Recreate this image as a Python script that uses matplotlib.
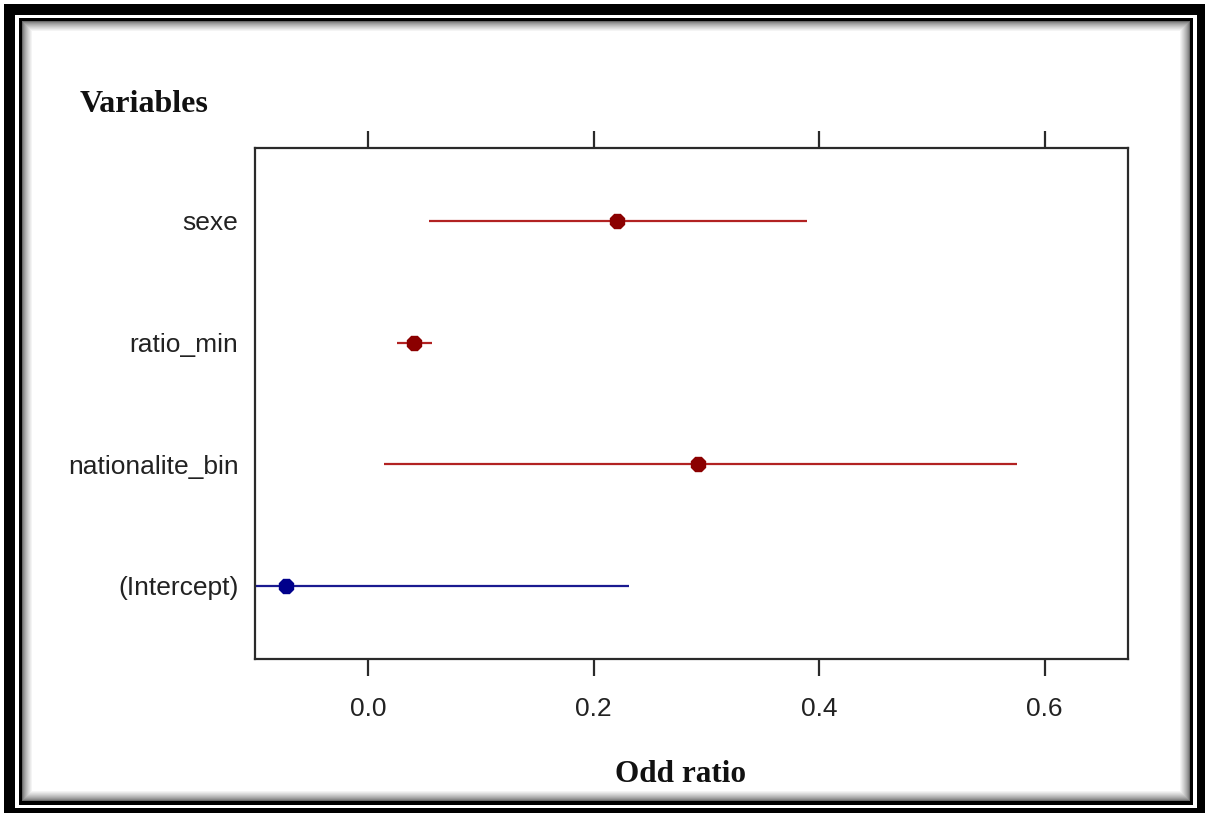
import matplotlib
matplotlib.use("Agg")
import matplotlib.pyplot as plt
from matplotlib.patches import Rectangle

# Coefficient estimates with their confidence bounds
variables = ["(Intercept)", "nationalite_bin", "ratio_min", "sexe"]
estimates = [-0.073, 0.293, 0.041, 0.221]
lower = [-0.377, 0.014, 0.026, 0.054]
upper = [0.2315, 0.576, 0.057, 0.389]
point_colors = ["#00008B", "#8B0000", "#8B0000", "#8B0000"]
line_colors = ["#1A1A90", "#B22222", "#B22222", "#B22222"]
xticks = [0.0, 0.2, 0.4, 0.6]
xtick_labels = ["0.0", "0.2", "0.4", "0.6"]

W, H = 1208, 814
fig = plt.figure(figsize=(W / 100, H / 100), dpi=100)
fig.patch.set_facecolor("white")

# Decorative double frame with an inset shadow, drawn in pixel coordinates
bg = fig.add_axes([0, 0, 1, 1], zorder=-10)
bg.set_xlim(0, W)
bg.set_ylim(H, 0)
bg.axis("off")

def box(x0, y0, x1, y1, color):
    bg.add_patch(Rectangle((x0, y0), x1 - x0, y1 - y0, facecolor=color,
                           edgecolor="none"))

box(4, 4, 1205, 813, "black")
box(15, 15, 1197, 808, "white")
box(19, 18, 1193, 805, "black")
box(22, 21, 1190, 801, "#6a6a6a")
n_shade = 10
for i in range(1, n_shade + 1):
    g = 0.42 + 0.58 * (i / n_shade) ** 0.7
    box(22 + i, 21 + i, 1190 - i, 801 - i, (g, g, g))

# Forest plot axes
ax = fig.add_axes([255 / W, 1 - 659 / H, 873 / W, 511 / H])
ax.set_xlim(-0.1002, 0.674)
ax.set_ylim(0.4, 4.6)
ypos = list(range(1, len(variables) + 1))

for y, est, lo, hi, pc, lc in zip(ypos, estimates, lower, upper,
                                  point_colors, line_colors):
    ax.plot([lo, hi], [y, y], color=lc, linewidth=1.6, solid_capstyle="butt",
            zorder=2)
    ax.plot([est], [y], marker="8", markersize=11.5, color=pc,
            markeredgecolor=pc, linestyle="none", zorder=3)

for side in ax.spines.values():
    side.set_linewidth(1.6)
    side.set_color("#2a2a2a")

ax.set_yticks(ypos)
ax.set_yticklabels(variables, fontsize=19, family="Liberation Sans",
                   color="#222222")
ax.tick_params(axis="y", length=0, pad=12)

ax.set_xticks(xticks)
ax.set_xticklabels(xtick_labels, fontsize=19, family="Liberation Sans",
                   color="#222222")
ax.tick_params(axis="x", direction="out", length=12, width=1.6,
               color="#2a2a2a", top=True, labeltop=False, pad=15)

fig.text(80 / W, 1 - 104 / H, "Variables", fontsize=23, fontweight="bold",
         family="Liberation Serif", ha="left", va="center", color="#111111")
fig.text(681 / W, 1 - 775 / H, "Odd ratio", fontsize=22.5, fontweight="bold",
         family="Liberation Serif", ha="center", va="center", color="#111111")

fig.savefig("out.png", dpi=100)
